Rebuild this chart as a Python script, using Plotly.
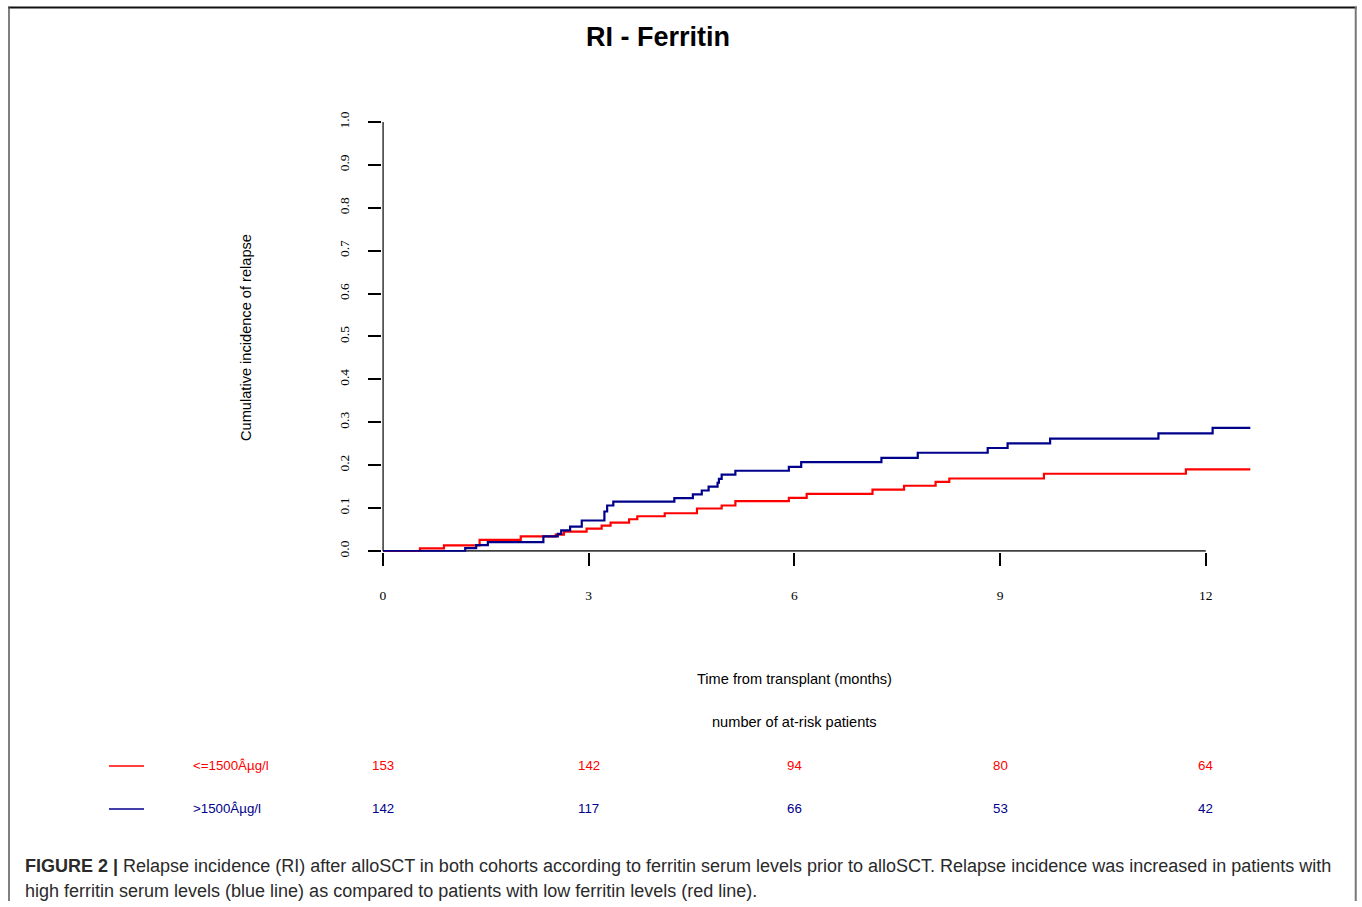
import plotly.graph_objects as go

# ---------------- data ----------------
red_time = [0, 0.54, 0.89, 1.41, 2.01, 2.52, 2.64, 2.97, 3.19, 3.32, 3.59, 3.71, 4.11, 4.58,
            4.94, 5.14, 5.92, 6.18, 7.14, 7.60, 8.06, 8.26, 9.64, 11.71, 12.65]
red_ci = [0, 0.006, 0.013, 0.026, 0.034, 0.038, 0.045, 0.052, 0.059, 0.066, 0.074, 0.081, 0.088,
          0.099, 0.106, 0.116, 0.124, 0.133, 0.143, 0.152, 0.161, 0.169, 0.180, 0.190, 0.190]

blue_time = [0, 1.20, 1.36, 1.53, 2.34, 2.55, 2.60, 2.73, 2.90, 3.23, 3.27, 3.36, 4.25, 4.52,
             4.65, 4.75, 4.88, 4.90, 4.94, 5.14, 5.92, 6.10, 7.27, 7.80, 8.82, 9.11, 9.73,
             11.31, 12.10, 12.65]
blue_ci = [0, 0.0065, 0.0135, 0.0205, 0.034, 0.040, 0.048, 0.057, 0.071, 0.092, 0.106, 0.115,
           0.123, 0.132, 0.141, 0.150, 0.159, 0.168, 0.178, 0.187, 0.196, 0.207, 0.217, 0.229,
           0.240, 0.251, 0.262, 0.274, 0.287, 0.287]

x_ticks = [0, 3, 6, 9, 12]
y_ticks = [0.0, 0.1, 0.2, 0.3, 0.4, 0.5, 0.6, 0.7, 0.8, 0.9, 1.0]

group_labels = ["<=1500\u00c2\u00b5g/l", ">1500\u00c2\u00b5g/l"]
risk_red = [153, 142, 94, 80, 64]
risk_blue = [142, 117, 66, 53, 42]

RED = "#ff0000"
BLUE = "#00008b"

W, H = 1362, 907

# screen-pixel -> figure-pixel compensation (measured from the rendered page)
SX, OX = 0.998, 2.0
SY, OY = 0.9835, 9.0


def fx(X):
    return (X - OX) / SX


def fy(Y):
    return (Y - OY) / SY


def px(X):
    return fx(X) / W


def py(Y):
    return 1 - fy(Y) / H


# axis geometry (target screen pixels)
X0_PX, X12_PX = 382, 1205
Y0_PX, Y1_PX = 551, 122
ppm = (fx(X12_PX) - fx(X0_PX)) / 12.0
ppu = (fy(Y0_PX) - fy(Y1_PX)) / 1.0
xr = [-0.008, 12.70]
yr = [-0.002, 1.004]
xd = [(fx(X0_PX) + xr[0] * ppm) / W, (fx(X0_PX) + xr[1] * ppm) / W]
yd = [1 - (fy(Y0_PX) - yr[0] * ppu) / H, 1 - (fy(Y0_PX) - yr[1] * ppu) / H]

fig = go.Figure()
fig.add_trace(go.Scatter(x=red_time, y=red_ci, mode="lines", line=dict(color=RED, width=2.2, shape="hv"),
                         name=group_labels[0], showlegend=False, hoverinfo="skip"))
fig.add_trace(go.Scatter(x=blue_time, y=blue_ci, mode="lines", line=dict(color=BLUE, width=2.2, shape="hv"),
                         name=group_labels[1], showlegend=False, hoverinfo="skip"))

shapes = []
# axis lines (R style, limited to tick span)
shapes.append(dict(type="line", xref="x", yref="y", x0=x_ticks[0], x1=x_ticks[-1], y0=y_ticks[0], y1=y_ticks[0],
                   line=dict(color="black", width=1.5), layer="below"))
shapes.append(dict(type="line", xref="x", yref="y", x0=x_ticks[0], x1=x_ticks[0], y0=y_ticks[0], y1=y_ticks[-1],
                   line=dict(color="black", width=1.5), layer="below"))
# frame
shapes.append(dict(type="line", xref="paper", yref="paper", x0=px(7), x1=px(1356), y0=py(7.5), y1=py(7.5),
                   line=dict(color="#111111", width=2)))
shapes.append(dict(type="line", xref="paper", yref="paper", x0=px(8), x1=px(8), y0=py(7), y1=1.0 - 0.0,
                   line=dict(color="#555555", width=1.5)))
shapes.append(dict(type="line", xref="paper", yref="paper", x0=px(8), x1=px(8), y0=py(7), y1=0,
                   line=dict(color="#555555", width=1.5)))
shapes.append(dict(type="line", xref="paper", yref="paper", x0=px(1355), x1=px(1355), y0=py(7), y1=0,
                   line=dict(color="#777777", width=2)))
# risk table legend lines
shapes.append(dict(type="line", xref="paper", yref="paper", x0=px(108), x1=px(143), y0=py(766), y1=py(766),
                   line=dict(color=RED, width=1.5)))
shapes.append(dict(type="line", xref="paper", yref="paper", x0=px(108), x1=px(143), y0=py(809), y1=py(809),
                   line=dict(color=BLUE, width=1.5)))
# remove the helper line that went upward
shapes = [s for i, s in enumerate(shapes) if i != 3]

FONT = "Liberation Sans, Arial"
ann = []
ann.append(dict(text="<b>RI - Ferritin</b>", x=px(657), y=py(37), xref="paper", yref="paper",
                showarrow=False, font=dict(family=FONT, size=27, color="black"),
                xanchor="center", yanchor="middle"))
ann.append(dict(text="Cumulative incidence of relapse", x=px(245), y=py(337), xref="paper", yref="paper",
                showarrow=False, textangle=-90, font=dict(family=FONT, size=14.6, color="black"),
                xanchor="center", yanchor="middle"))
ann.append(dict(text="Time from transplant (months)", x=(x_ticks[0] + x_ticks[-1]) / 2, y=py(679), xref="x",
                yref="paper", showarrow=False, font=dict(family=FONT, size=14.6, color="black"),
                xanchor="center", yanchor="middle"))
ann.append(dict(text="number of at-risk patients", x=(x_ticks[0] + x_ticks[-1]) / 2, y=py(722), xref="x",
                yref="paper", showarrow=False, font=dict(family=FONT, size=14.6, color="black"),
                xanchor="center", yanchor="middle"))
ann.append(dict(text=group_labels[0], x=px(190), y=py(766), xref="paper", yref="paper", showarrow=False,
                font=dict(family=FONT, size=13.3, color=RED), xanchor="left", yanchor="middle"))
ann.append(dict(text=group_labels[1], x=px(190), y=py(809), xref="paper", yref="paper", showarrow=False,
                font=dict(family=FONT, size=13.3, color=BLUE), xanchor="left", yanchor="middle"))
for t, r, b in zip(x_ticks, risk_red, risk_blue):
    ann.append(dict(text=str(r), x=t, y=py(766), xref="x", yref="paper", showarrow=False,
                    font=dict(family=FONT, size=13.3, color=RED), xanchor="center", yanchor="middle"))
    ann.append(dict(text=str(b), x=t, y=py(809), xref="x", yref="paper", showarrow=False,
                    font=dict(family=FONT, size=13.3, color=BLUE), xanchor="center", yanchor="middle"))
# caption
CAP = "#2a2a2a"
ann.append(dict(text="<b>FIGURE 2 |</b> Relapse incidence (RI) after alloSCT in both cohorts according to ferritin "
                     "serum levels prior to alloSCT. Relapse incidence was increased in patients with",
                x=px(22), y=py(866), xref="paper", yref="paper", showarrow=False,
                font=dict(family=FONT, size=18, color=CAP), xanchor="left", yanchor="middle"))
ann.append(dict(text="high ferritin serum levels (blue line) as compared to patients with low ferritin levels (red line).",
                x=px(22), y=py(891), xref="paper", yref="paper", showarrow=False,
                font=dict(family=FONT, size=18, color=CAP), xanchor="left", yanchor="middle"))

fig.update_layout(
    width=W, height=H,
    margin=dict(l=0, r=0, t=0, b=0),
    paper_bgcolor="white", plot_bgcolor="white",
    showlegend=False,
    shapes=shapes, annotations=ann,
    xaxis=dict(domain=xd, range=xr, tickvals=x_ticks, ticktext=[str(v) for v in x_ticks],
               showgrid=False, zeroline=False, showline=False, ticks="outside", ticklen=13, tickwidth=1.5,
               tickcolor="black", ticklabelstandoff=18,
               tickfont=dict(family="Liberation Serif, Times New Roman", size=13.5, color="black")),
    yaxis=dict(domain=yd, range=yr, tickvals=y_ticks, ticktext=["%.1f" % v for v in y_ticks],
               showgrid=False, zeroline=False, showline=False, ticks="outside", ticklen=13, tickwidth=1.5,
               tickcolor="black", tickangle=-90, ticklabelstandoff=14,
               tickfont=dict(family="Liberation Serif, Times New Roman", size=13.5, color="black")),
)

fig.write_html(
    "out.html",
    config={"displayModeBar": False},
    post_script=("document.documentElement.style.margin='0';document.body.style.margin='0';"
                 "document.body.style.padding='0';document.documentElement.style.overflow='hidden';"
                 "var gd=document.getElementsByClassName('plotly-graph-div')[0];"
                 "gd.style.position='fixed';gd.style.top='0px';gd.style.left='0px';"),
)
